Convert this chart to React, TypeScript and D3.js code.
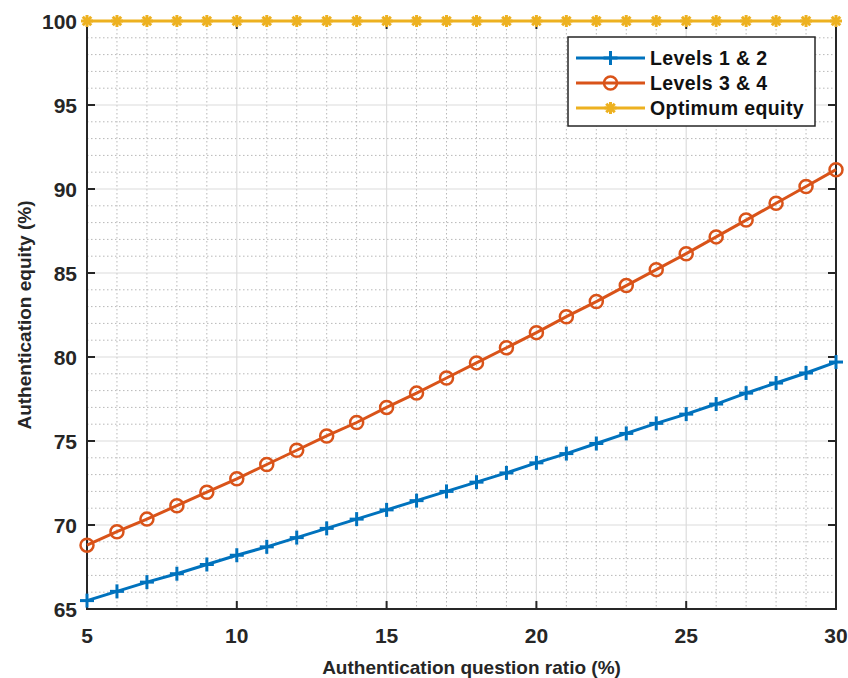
import React from "react";
import * as d3 from "d3";

const xValues = [5,6,7,8,9,10,11,12,13,14,15,16,17,18,19,20,21,22,23,24,25,26,27,28,29,30];
const levels12 = [65.5,66.05,66.6,67.1,67.65,68.2,68.7,69.25,69.8,70.35,70.9,71.45,72.0,72.55,73.1,73.7,74.25,74.85,75.45,76.05,76.6,77.2,77.85,78.45,79.05,79.7];
const levels34 = [68.8,69.6,70.35,71.15,71.95,72.75,73.6,74.45,75.3,76.1,77.0,77.85,78.75,79.65,80.55,81.45,82.4,83.3,84.25,85.2,86.15,87.15,88.15,89.15,90.15,91.15];
const optimum = xValues.map(() => 100);
const xTicks = [5,10,15,20,25,30];
const yTicks = [65,70,75,80,85,90,95,100];
const seriesNames = ["Levels 1 & 2","Levels 3 & 4","Optimum equity"];
const colors = ["#0072BD","#D95319","#EDB120"];

const W = 848, H = 678;
const L = 87, R = 836, T = 21, B = 609;

function Marker({ kind, x, y, color }: { kind: number; x: number; y: number; color: string }) {
  if (kind === 0) {
    return (
      <g stroke={color} strokeWidth={3}>
        <line x1={x - 7} x2={x + 7} y1={y} y2={y} />
        <line x1={x} x2={x} y1={y - 7} y2={y + 7} />
      </g>
    );
  }
  if (kind === 1) {
    return <circle cx={x} cy={y} r={6.5} fill="none" stroke={color} strokeWidth={2.5} />;
  }
  const arms = [0, 45, 90, 135];
  return (
    <g stroke={color} strokeWidth={3}>
      {arms.map((a) => {
        const r = (a * Math.PI) / 180;
        return <line key={a} x1={x - 6 * Math.cos(r)} x2={x + 6 * Math.cos(r)} y1={y - 6 * Math.sin(r)} y2={y + 6 * Math.sin(r)} />;
      })}
    </g>
  );
}

export default function App() {
  const x = d3.scaleLinear().domain([5, 30]).range([L, R]);
  const y = d3.scaleLinear().domain([65, 100]).range([B, T]);
  const series = [levels12, levels34, optimum];
  const line = d3.line<number>().x((_, i) => x(xValues[i])).y((d) => y(d));
  const minorX = d3.range(5, 31, 1);
  const minorY = d3.range(65, 101, 1);
  const font = "'Liberation Sans', Arial, sans-serif";

  return (
    <svg width={W} height={H} style={{ position: "absolute", left: 0, top: 0, background: "#fff" }} fontFamily={font}>
      <rect x={0} y={0} width={W} height={H} fill="#fff" />
      {/* minor grid */}
      <g stroke="#b8b8b8" strokeWidth={1} strokeDasharray="1.5,2.5">
        {minorX.filter((v) => v % 5 !== 0).map((v) => (
          <line key={"mx" + v} x1={x(v)} x2={x(v)} y1={T} y2={B} />
        ))}
        {minorY.filter((v) => v % 5 !== 0).map((v) => (
          <line key={"my" + v} x1={L} x2={R} y1={y(v)} y2={y(v)} />
        ))}
      </g>
      {/* major grid */}
      <g stroke="#dcdcdc" strokeWidth={1.2}>
        {xTicks.map((v) => (
          <line key={"gx" + v} x1={x(v)} x2={x(v)} y1={T} y2={B} />
        ))}
        {yTicks.map((v) => (
          <line key={"gy" + v} x1={L} x2={R} y1={y(v)} y2={y(v)} />
        ))}
      </g>
      {/* axes box */}
      <rect x={L} y={T} width={R - L} height={B - T} fill="none" stroke="#262626" strokeWidth={2} />
      {/* ticks */}
      <g stroke="#262626" strokeWidth={2}>
        {xTicks.map((v) => (
          <g key={"tx" + v}>
            <line x1={x(v)} x2={x(v)} y1={B} y2={B - 8} />
            <line x1={x(v)} x2={x(v)} y1={T} y2={T + 8} />
          </g>
        ))}
        {yTicks.map((v) => (
          <g key={"ty" + v}>
            <line x1={L} x2={L + 8} y1={y(v)} y2={y(v)} />
            <line x1={R} x2={R - 8} y1={y(v)} y2={y(v)} />
          </g>
        ))}
      </g>
      {/* tick labels */}
      <g fontSize={21} fontWeight="bold" fill="#262626">
        {xTicks.map((v) => (
          <text key={"lx" + v} x={x(v)} y={643} textAnchor="middle">{v}</text>
        ))}
        {yTicks.map((v) => (
          <text key={"ly" + v} x={77} y={y(v) + 8} textAnchor="end">{v}</text>
        ))}
      </g>
      {/* axis labels */}
      <text x={(L + R) / 2 + 10} y={674} textAnchor="middle" fontSize={19} fontWeight="bold" fill="#262626">
        Authentication question ratio (%)
      </text>
      <text transform={`translate(31,${(T + B) / 2}) rotate(-90)`} textAnchor="middle" fontSize={19} fontWeight="bold" fill="#262626">
        Authentication equity (%)
      </text>
      {/* series */}
      {series.map((s, k) => (
        <g key={"s" + k}>
          <path d={line(s) || ""} fill="none" stroke={colors[k]} strokeWidth={3} />
          {s.map((d, i) => (
            <Marker key={i} kind={k} x={x(xValues[i])} y={y(d)} color={colors[k]} />
          ))}
        </g>
      ))}
      {/* legend */}
      <g>
        <rect x={568} y={37} width={247} height={89} fill="#fff" stroke="#262626" strokeWidth={1.5} />
        {seriesNames.map((n, k) => {
          const ly = 58 + k * 25;
          return (
            <g key={"lg" + k}>
              <line x1={576} x2={645} y1={ly} y2={ly} stroke={colors[k]} strokeWidth={3} />
              <Marker kind={k} x={610.5} y={ly} color={colors[k]} />
              <text x={650} y={ly + 7} fontSize={19.5} fontWeight="bold" letterSpacing={0.4} fill="#111">{n}</text>
            </g>
          );
        })}
      </g>
    </svg>
  );
}
